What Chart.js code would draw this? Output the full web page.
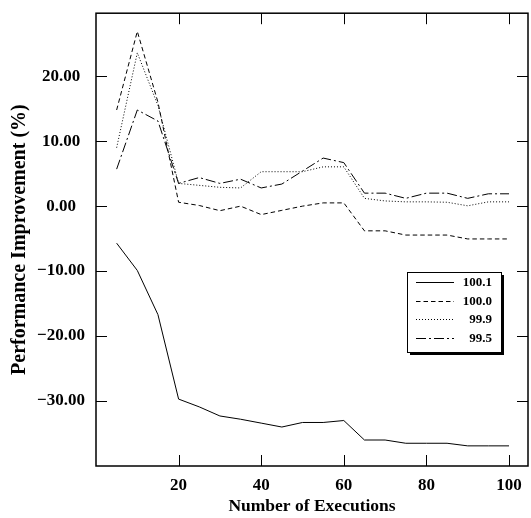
<!DOCTYPE html>
<html>
<head>
<meta charset="utf-8">
<script src="https://cdn.jsdelivr.net/npm/chart.js@4/dist/chart.umd.min.js"></script>
<style>
  html, body { margin: 0; padding: 0; background: #fff; }
  canvas { display: block; }
</style>
</head>
<body>
<canvas id="perf-chart" width="531" height="518"></canvas>
<script>
// x positions (number of executions)
const executions = [5, 10, 15, 20, 25, 30, 35, 40, 45, 50, 55, 60, 65, 70, 75, 80, 85, 90, 95, 100];

// series names
const seriesNames = ['100.1', '100.0', '99.9', '99.5'];

// performance improvement (%) per series
const improve1001 = [-5.7, -9.9, -16.7, -29.7, -30.9, -32.3, -32.8, -33.4, -34.0, -33.3, -33.3, -33.0, -36.0, -36.0, -36.5, -36.5, -36.5, -36.9, -36.9, -36.9];
const improve1000 = [14.8, 26.9, 16.0, 0.6, 0.1, -0.7, 0.0, -1.3, -0.65, 0.0, 0.5, 0.5, -3.8, -3.8, -4.45, -4.45, -4.45, -5.05, -5.05, -5.05];
const improve999 = [9.0, 23.6, 15.5, 3.5, 3.2, 2.9, 2.8, 5.3, 5.3, 5.3, 6.05, 6.05, 1.2, 0.8, 0.66, 0.66, 0.6, 0.05, 0.66, 0.66];
const improve995 = [5.7, 14.8, 13.1, 3.5, 4.4, 3.5, 4.15, 2.8, 3.4, 5.4, 7.4, 6.7, 2.0, 2.0, 1.2, 2.0, 2.0, 1.2, 1.9, 1.9];

// tick labels shown on each axis
const xTickValues = [20, 40, 60, 80, 100];
const yTickValues = [20, 10, 0, -10, -20, -30];

//line styles
const dashStyles = [[], [4.5, 3], [1, 2], [10, 3, 2, 3]];

const serif = "'Liberation Serif', 'Times New Roman', serif";

const toPoints = (vals) => vals.map((v, i) => ({ x: executions[i], y: v }));

const seriesValues = [improve1001, improve1000, improve999, improve995];

const datasets = seriesNames.map((name, i) => ({
  label: name,
  data: toPoints(seriesValues[i]),
  borderColor: '#000',
  borderWidth: 1,
  borderDash: dashStyles[i],
  pointRadius: 0,
  tension: 0,
  fill: false,
}));

const fmtTick = (v) => (v < 0 ? '\u2212' + Math.abs(v).toFixed(2) : v.toFixed(2));

//frame with inward ticks on every side, plus the boxed legend
const framePlugin = {
  id: 'frame',
  afterDatasetsDraw(chart) {
    const { ctx, chartArea: a, scales } = chart;
    const tick = 11;
    ctx.save();
    ctx.strokeStyle = '#000';
    ctx.lineWidth = 1;
    scales.x.ticks.forEach((t) => {
      const px = Math.round(scales.x.getPixelForValue(t.value)) + 0.5;
      ctx.beginPath();
      ctx.moveTo(px, a.bottom);
      ctx.lineTo(px, a.bottom - tick);
      ctx.moveTo(px, a.top);
      ctx.lineTo(px, a.top + tick);
      ctx.stroke();
    });
    scales.y.ticks.forEach((t) => {
      const py = Math.round(scales.y.getPixelForValue(t.value)) + 0.5;
      ctx.beginPath();
      ctx.moveTo(a.left, py);
      ctx.lineTo(a.left + tick, py);
      ctx.moveTo(a.right, py);
      ctx.lineTo(a.right - tick, py);
      ctx.stroke();
    });
    ctx.lineWidth = 1.5;
    ctx.strokeRect(a.left, a.top, a.right - a.left, a.bottom - a.top);

    // legend box
    const lx = 407, ly = 272, lw = 94, lh = 80;
    ctx.fillStyle = '#000';
    ctx.fillRect(lx + 3, ly + 3, lw, lh);
    ctx.fillStyle = '#fff';
    ctx.fillRect(lx, ly, lw, lh);
    ctx.lineWidth = 1;
    ctx.strokeRect(lx + 0.5, ly + 0.5, lw, lh);
    ctx.font = 'bold 13px ' + serif;
    ctx.textAlign = 'right';
    ctx.textBaseline = 'middle';
    seriesNames.forEach((name, i) => {
      const ry = Math.round(ly + 10 + i * 18.5) + 0.5;
      ctx.setLineDash(dashStyles[i]);
      ctx.beginPath();
      ctx.moveTo(416, ry);
      ctx.lineTo(454, ry);
      ctx.stroke();
      ctx.setLineDash([]);
      ctx.fillStyle = '#000';
      ctx.fillText(name, 492, ry);
    });
    ctx.restore();
  },
};

new Chart(document.querySelector('#perf-chart'), {
  type: 'line',
  data: { datasets },
  options: {
    responsive: false,
    animation: false,
    layout: { padding: { top: 12, right: 3, left: 0, bottom: 0 } },
    plugins: { legend: { display: false }, tooltip: { enabled: false } },
    scales: {
      x: {
        type: 'linear',
        min: 0,
        max: 104.6,
        grid: { display: false },
        border: { display: false },
        afterBuildTicks: (scale) => {
          scale.ticks = xTickValues.map((v) => ({ value: v }));
        },
        afterFit: (scale) => {
          scale.height = 52;
        },
        ticks: {
          padding: 1,
          color: '#000',
          font: { family: serif, size: 17, weight: 'bold' },
          callback: (v) => String(v),
        },
        title: {
          display: true,
          text: 'Number of Executions',
          color: '#000',
          padding: { top: 0, bottom: 1 },
          font: { family: serif, size: 17.5, weight: 'bold' },
        },
      },
      y: {
        min: -40,
        max: 29.7,
        grid: { display: false },
        border: { display: false },
        afterBuildTicks: (scale) => {
          scale.ticks = yTickValues.map((v) => ({ value: v }));
        },
        afterFit: (scale) => {
          scale.width = 96;
        },
        ticks: {
          padding: 3,
          crossAlign: 'center',
          color: '#000',
          font: { family: serif, size: 17, weight: 'bold' },
          callback: (v) => fmtTick(v),
        },
        title: {
          display: true,
          text: 'Performance Improvement (%)',
          color: '#000',
          padding: { top: 8, bottom: 0 },
          font: { family: serif, size: 20, weight: 'bold' },
        },
      },
    },
  },
  plugins: [framePlugin],
});
</script>
</body>
</html>
